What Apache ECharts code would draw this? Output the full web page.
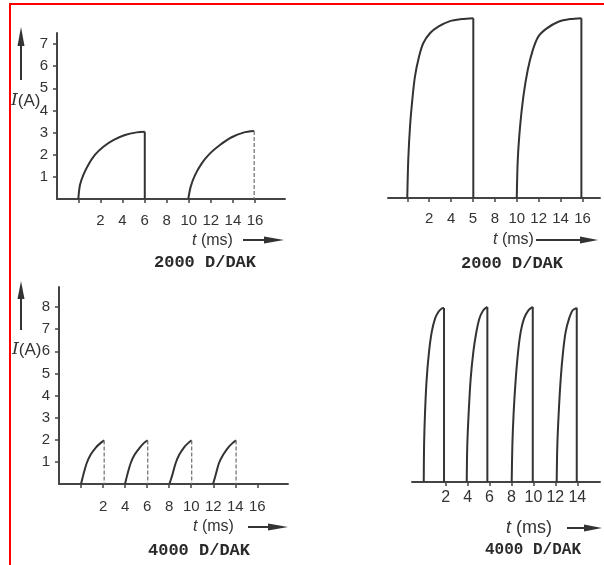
<!DOCTYPE html>
<html>
<head>
<meta charset="utf-8">
<script src="https://cdn.jsdelivr.net/npm/echarts@6/dist/echarts.min.js"></script>
<style>
html,body{margin:0;padding:0;background:#fff;}
#c{width:604px;height:565px;}
</style>
</head>
<body>
<div id="c"></div>
<script>
// ---- data (t in ms, I in A) ----
const tlPulses = [
  [[0,0],[0.15,0.63],[0.45,1.08],[0.9,1.54],[1.5,1.99],[2.27,2.36],[3.17,2.66],[4.23,2.89],[5.29,3.01],[6.02,3.04]],
  [[9.96,0],[10.18,0.56],[10.57,1.08],[11.18,1.61],[11.93,2.06],[12.83,2.44],[13.89,2.79],[14.95,3.0],[15.93,3.07]]
];
const trPulses = [
  [[0,0],[0.09,1.72],[0.25,3.22],[0.46,4.43],[0.7,5.48],[1.07,6.38],[1.46,6.99],[2.07,7.44],[2.83,7.74],[3.9,7.99],[4.97,8.08],[6.03,8.12]],
  [[10,0],[10.09,1.72],[10.3,3.22],[10.6,4.58],[11.0,5.78],[11.46,6.68],[11.97,7.29],[12.74,7.66],[13.8,7.96],[14.87,8.08],[15.9,8.12]]
];
const blPulses = [
  [[0,0],[0.21,0.42],[0.52,0.95],[0.88,1.33],[1.36,1.66],[1.79,1.86],[2.1,1.97]],
  [[3.99,0],[4.2,0.42],[4.51,0.95],[4.87,1.33],[5.35,1.66],[5.72,1.86],[6.05,1.97]],
  [[8.02,0],[8.29,0.42],[8.59,0.95],[8.92,1.33],[9.35,1.66],[9.74,1.86],[10.04,1.97]],
  [[11.98,0],[12.22,0.42],[12.52,0.95],[12.91,1.33],[13.37,1.66],[13.77,1.86],[14.07,1.97]]
];
const brPulses = [
  [[0,0],[0.03,1.66],[0.12,3.17],[0.27,4.68],[0.48,5.88],[0.73,6.79],[1.03,7.39],[1.33,7.69],[1.64,7.85],[1.85,7.87]],
  [[3.92,0],[3.97,1.66],[4.1,3.17],[4.28,4.68],[4.52,5.88],[4.77,6.71],[5.07,7.39],[5.43,7.77],[5.8,7.92]],
  [[8.02,0],[8.08,1.66],[8.2,3.17],[8.39,4.68],[8.6,5.88],[8.84,6.79],[9.14,7.39],[9.54,7.77],[9.94,7.92]],
  [[12.12,0],[12.18,1.66],[12.31,3.17],[12.49,4.68],[12.7,5.88],[12.94,6.79],[13.25,7.39],[13.58,7.77],[13.95,7.88]]
];

const tlXTicks = [0,2,4,6,8,10,12,14,16];
const tlXLabelValues = [2,4,6,8,10,12,14,16];
const tlXLabels = ['2','4','6','8','10','12','14','16'];
const trXTicks = [0,2,4,6,8,10,12,14,16];
const trXLabelValues = [2,4,6,8,10,12,14,16];
const trXLabels = ['2','4','5','8','10','12','14','16'];
const blXTicks = [0,2,4,6,8,10,12,14,16];
const blXLabelValues = [2,4,6,8,10,12,14,16];
const blXLabels = ['2','4','6','8','10','12','14','16'];
const brXTicks = [2,4,6,8,10,12,14];
const brXLabelValues = [2,4,6,8,10,12,14];
const brXLabels = ['2','4','6','8','10','12','14'];
const tlYTicks = [1,2,3,4,5,6,7];
const blYTicks = [1,2,3,4,5,6,7,8];

const captionTop = '2000 D/DAK';
const captionBottom = '4000 D/DAK';
const yName = 'I(A)';
const xName = 't (ms)';

// ---- chart ----
const chart = echarts.init(document.getElementById('c'), null, {renderer:'canvas'});
const INK = '#333333';
const AX = '#444444';
const numFont = 'Liberation Sans';

function xAxisDef(grid, min, max, ticks, labelVals, labels, fs, margin){
  return {
    type:'value', gridIndex:grid, min:min, max:max,
    axisLine:{show:true, onZero:false, lineStyle:{color:AX, width:2}},
    axisTick:{show:true, customValues:ticks, length:4, inside:false, lineStyle:{color:AX, width:1.5}},
    axisLabel:{show:true, customValues:labelVals, margin:margin, color:'#333', fontSize:fs, fontFamily:numFont,
      formatter:function(v){ const i = labelVals.indexOf(v); return i>=0 ? labels[i] : ''; }},
    splitLine:{show:false}, minorTick:{show:false}
  };
}
function yAxisDef(grid, max, ticks, show){
  return {
    type:'value', gridIndex:grid, min:0, max:max, show:show,
    axisLine:{show:true, onZero:false, lineStyle:{color:AX, width:2}},
    axisTick:{show:true, customValues:ticks||[], length:4, lineStyle:{color:AX, width:1.5}},
    axisLabel:{show:true, customValues:ticks||[], margin:9, color:'#333', fontSize:15, fontFamily:numFont},
    splitLine:{show:false}
  };
}

const panels = [
  {pulses:tlPulses, grid:0, lightDrop:[false,true]},
  {pulses:trPulses, grid:1, lightDrop:[false,false]},
  {pulses:blPulses, grid:2, lightDrop:[true,true,true,true]},
  {pulses:brPulses, grid:3, lightDrop:[false,false,false,false]}
];
const series = [];
panels.forEach(function(p){
  p.pulses.forEach(function(pulse, k){
    series.push({type:'line', xAxisIndex:p.grid, yAxisIndex:p.grid, data:pulse, smooth:0.3,
      symbol:'none', lineStyle:{color:INK, width:2}, silent:true});
    const last = pulse[pulse.length-1];
    const light = p.lightDrop[k];
    series.push({type:'line', xAxisIndex:p.grid, yAxisIndex:p.grid, data:[[last[0], last[1]],[last[0], 0]],
      symbol:'none', silent:true,
      lineStyle: light ? {color:'#777', width:1.3, type:[4,2]} : {color:INK, width:2}});
  });
});

function tText(x, y, fs){
  return {type:'text', x:x, y:y, silent:true, style:{
    text:'{i|t}' + xName.slice(1), fill:'#333', font: fs+'px "Liberation Sans"',
    textAlign:'left', textVerticalAlign:'middle', align:'left', verticalAlign:'middle',
    rich:{i:{fontStyle:'italic', fontSize:fs, fontFamily:'Liberation Sans', fill:'#333'}}
  }};
}
function hArrow(x1, x2, y, head){
  return [
    {type:'line', silent:true, shape:{x1:x1, y1:y, x2:x2-head+2, y2:y}, style:{stroke:'#333', lineWidth:2}},
    {type:'polygon', silent:true, shape:{points:[[x2,y],[x2-head,y-3.5],[x2-head,y+3.5]]}, style:{fill:'#333'}}
  ];
}
function vArrow(x, yTip, yEnd, head){
  return [
    {type:'line', silent:true, shape:{x1:x, y1:yTip+head-2, x2:x, y2:yEnd}, style:{stroke:'#333', lineWidth:2}},
    {type:'polygon', silent:true, shape:{points:[[x,yTip],[x-3.5,yTip+head],[x+3.5,yTip+head]]}, style:{fill:'#333'}}
  ];
}
function iText(x, y){
  return {type:'text', x:x, y:y, silent:true, style:{
    text:'{i|I}' + yName.slice(1), fill:'#333', font:'17px "Liberation Sans"',
    textAlign:'left', textVerticalAlign:'middle', align:'left', verticalAlign:'middle',
    rich:{i:{fontStyle:'italic', fontFamily:'DejaVu Serif', fontSize:17, fill:'#333'}}
  }};
}
function caption(txt, cx, cy, fs){
  return {type:'text', x:cx, y:cy, silent:true, style:{
    text:txt, fill:'#2a2a2a', font:'bold '+fs+'px "Liberation Mono"',
    textAlign:'center', textVerticalAlign:'middle', align:'center', verticalAlign:'middle'}};
}

const graphic = [].concat(
  [{type:'line', silent:true, shape:{x1:9, y1:4, x2:604, y2:4}, style:{stroke:'#ff0000', lineWidth:2}},
   {type:'line', silent:true, shape:{x1:10, y1:3, x2:10, y2:565}, style:{stroke:'#ff0000', lineWidth:2}}],
  vArrow(21, 27, 80, 19), vArrow(21, 281, 330, 18),
  [iText(11, 101), iText(12, 350)],
  [tText(192, 241, 16), tText(493, 240, 16), tText(193, 527, 16), tText(506, 528, 18)],
  hArrow(243, 284, 240, 20), hArrow(536, 598, 240, 18), hArrow(248, 288, 527, 20), hArrow(567, 602, 528, 18),
  [caption(captionTop, 205, 263, 17), caption(captionTop, 512, 264, 17),
   caption(captionBottom, 199, 551, 17), caption(captionBottom, 533, 550, 16)]
);

const option = {
  animation:false,
  backgroundColor:'#ffffff',
  grid:[
    {left:57, top:33, width:228, height:166, containLabel:false, outerBoundsMode:'none'},
    {left:388, top:15, width:212, height:183, containLabel:false, outerBoundsMode:'none'},
    {left:59, top:287, width:229, height:197, containLabel:false, outerBoundsMode:'none'},
    {left:412, top:300, width:188, height:182, containLabel:false, outerBoundsMode:'none'}
  ],
  xAxis:[
    xAxisDef(0, -1.93, 18.72, tlXTicks, tlXLabelValues, tlXLabels, 15, 14),
    xAxisDef(1, -1.76, 17.6, trXTicks, trXLabelValues, trXLabels, 15, 13),
    xAxisDef(2, -2.0, 18.78, blXTicks, blXLabelValues, blXLabels, 15, 15),
    xAxisDef(3, -1.07, 16.07, brXTicks, brXLabelValues, brXLabels, 16, 8)
  ],
  yAxis:[
    yAxisDef(0, 7.5, tlYTicks, true),
    yAxisDef(1, 8.265, null, false),
    yAxisDef(2, 8.91, blYTicks, true),
    yAxisDef(3, 8.235, null, false)
  ],
  series:series,
  graphic:graphic
};
chart.setOption(option);
</script>
</body>
</html>
